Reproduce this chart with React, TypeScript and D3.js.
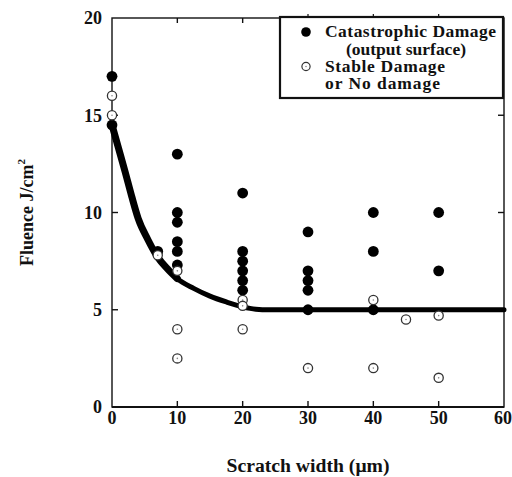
import React from "react";
import * as d3 from "d3";

// catastrophic damage (filled) points: [scratch width um, fluence J/cm2]
const catastrophic: [number, number][] = [
  [0, 17], [0, 14.5],
  [7, 8],
  [10, 13], [10, 10], [10, 9.5], [10, 8.5], [10, 8], [10, 7.3],
  [20, 11], [20, 8], [20, 7.5], [20, 7], [20, 6.5], [20, 6],
  [30, 9], [30, 7], [30, 6.5], [30, 6], [30, 5],
  [40, 10], [40, 8], [40, 5],
  [50, 10], [50, 7],
];

// stable damage or no damage (open) points
const stable: [number, number][] = [
  [0, 16], [0, 15],
  [7, 7.8],
  [10, 7], [10, 4], [10, 2.5],
  [20, 5.5], [20, 5.2], [20, 4],
  [30, 2],
  [40, 5.5], [40, 2],
  [45, 4.5],
  [50, 4.7], [50, 1.5],
];

// threshold curve
const threshold: [number, number][] = [
  [0, 14.5], [1, 13.3], [2, 12.1], [3, 10.85], [4, 9.7], [5.5, 8.6],
  [7, 7.7], [8.5, 7.1], [10, 6.6], [12.5, 6.1], [15, 5.7], [17.5, 5.4],
  [20, 5.15], [22, 5.03], [24, 5], [60, 5],
];

const xTicks = [0, 10, 20, 30, 40, 50, 60];
const yTicks = [0, 5, 10, 15, 20];

const legendItems = [
  { filled: true, lines: ["Catastrophic Damage", "(output surface)"] },
  { filled: false, lines: ["Stable Damage", "or No damage"] },
];

const W = 512;
const H = 477;
const margin = { top: 18, right: 8, bottom: 70, left: 112 };
const font = "'Liberation Serif', 'Times New Roman', serif";
const ink = "#111";

export default function App() {
  const x = d3.scaleLinear().domain([0, 60]).range([margin.left, W - margin.right]);
  const y = d3.scaleLinear().domain([0, 20]).range([H - margin.bottom, margin.top]);

  const line = d3
    .line<[number, number]>()
    .x((d) => x(d[0]))
    .y((d) => y(d[1]))
    .curve(d3.curveMonotoneX);

  const [x0, x1] = x.range();
  const [y0, y1] = y.range();
  const tick = 6;

  // legend box
  const lg = { x: 280, y: 17, w: 223, h: 81 };
  const legendRows = [
    { text: "Catastrophic Damage", x: 325, y: 37, w: 171 },
    { text: "(output surface)", x: 346, y: 54.5, w: 120 },
    { text: "Stable Damage", x: 325, y: 72, w: 120 },
    { text: "or No damage", x: 325, y: 88.5, w: 115 },
  ];

  return (
    <svg
      width={W}
      height={H}
      style={{ position: "absolute", left: 0, top: 0, background: "#fff" }}
      fontFamily={font}
      fontWeight="bold"
    >
      {/* frame */}
      <rect x={x0} y={y1} width={x1 - x0} height={y0 - y1} fill="none" stroke={ink} strokeWidth={1.4} />
      <line x1={x0} x2={x1} y1={y0} y2={y0} stroke={ink} strokeWidth={1.8} />

      {/* x ticks, bottom and top, pointing inward */}
      {xTicks.slice(1, -1).map((t) => (
        <g key={"xt" + t}>
          <line x1={x(t)} x2={x(t)} y1={y0} y2={y0 - tick} stroke={ink} strokeWidth={1.4} />
          <line x1={x(t)} x2={x(t)} y1={y1} y2={y1 + 5} stroke={ink} strokeWidth={1.4} />
        </g>
      ))}
      {xTicks.map((t) => (
        <text key={"xl" + t} x={x(t) - (t === 60 ? 1 : 0)} y={424} textAnchor="middle" fontSize={18} fill={ink}>
          {t}
        </text>
      ))}

      {/* y ticks, left and right */}
      {yTicks.slice(1, -1).map((t) => (
        <g key={"yt" + t}>
          <line x1={x0} x2={x0 + tick} y1={y(t)} y2={y(t)} stroke={ink} strokeWidth={1.4} />
          <line x1={x1} x2={x1 - tick} y1={y(t)} y2={y(t)} stroke={ink} strokeWidth={1.4} />
        </g>
      ))}
      {yTicks.map((t) => (
        <text key={"yl" + t} x={102} y={y(t)} dy="0.35em" textAnchor="end" fontSize={18} fill={ink}>
          {t}
        </text>
      ))}

      {/* axis titles */}
      <text x={(x0 + x1) / 2} y={472} textAnchor="middle" fontSize={18.5} fill={ink} textLength={163} lengthAdjust="spacingAndGlyphs">
        Scratch width (μm)
      </text>
      <text transform={`translate(33, ${(y0 + y1) / 2}) rotate(-90)`} textAnchor="middle" fontSize={18} fill={ink}>
        Fluence J/cm
        <tspan fontSize={11} dy={-8}>2</tspan>
      </text>

      {/* threshold curve: thicker on the steep part, as in the print */}
      <path d={line(threshold) ?? ""} fill="none" stroke="#000" strokeWidth={5} strokeLinecap="round" strokeLinejoin="round" />
      <path
        d={line(threshold.filter((d) => d[0] <= 10)) ?? ""}
        fill="none"
        stroke="#000"
        strokeWidth={7}
        strokeLinecap="round"
        strokeLinejoin="round"
      />

      {/* points */}
      {catastrophic.map((d, i) => (
        <circle key={"c" + i} cx={x(d[0])} cy={y(d[1])} r={5.4} fill="#000" />
      ))}
      {stable.map((d, i) => (
        <g key={"s" + i}>
          <circle cx={x(d[0])} cy={y(d[1])} r={4.6} fill="#fff" stroke="#333" strokeWidth={1.3} />
          <circle cx={x(d[0])} cy={y(d[1])} r={0.8} fill="#888" />
        </g>
      ))}

      {/* legend */}
      <rect x={lg.x} y={lg.y} width={lg.w} height={lg.h} fill="#fff" stroke={ink} strokeWidth={2.2} />
      {[30, 40, 50].map((t) => (
        <line key={"lt" + t} x1={x(t)} x2={x(t)} y1={lg.y - 3} y2={lg.y} stroke={ink} strokeWidth={1.2} />
      ))}
      {legendItems.map((item, i) => {
        const cy = i === 0 ? 32 : 66.5;
        return item.filled ? (
          <circle key={"lm" + i} cx={306} cy={cy} r={4.8} fill="#000" />
        ) : (
          <g key={"lm" + i}>
            <circle cx={306} cy={cy} r={4.1} fill="#fff" stroke="#333" strokeWidth={1.2} />
            <circle cx={306} cy={cy} r={0.8} fill="#888" />
          </g>
        );
      })}
      {legendRows.map((r) => (
        <text key={r.text} x={r.x} y={r.y} fontSize={17.5} fill={ink} textLength={r.w} lengthAdjust="spacing">
          {r.text}
        </text>
      ))}
    </svg>
  );
}
